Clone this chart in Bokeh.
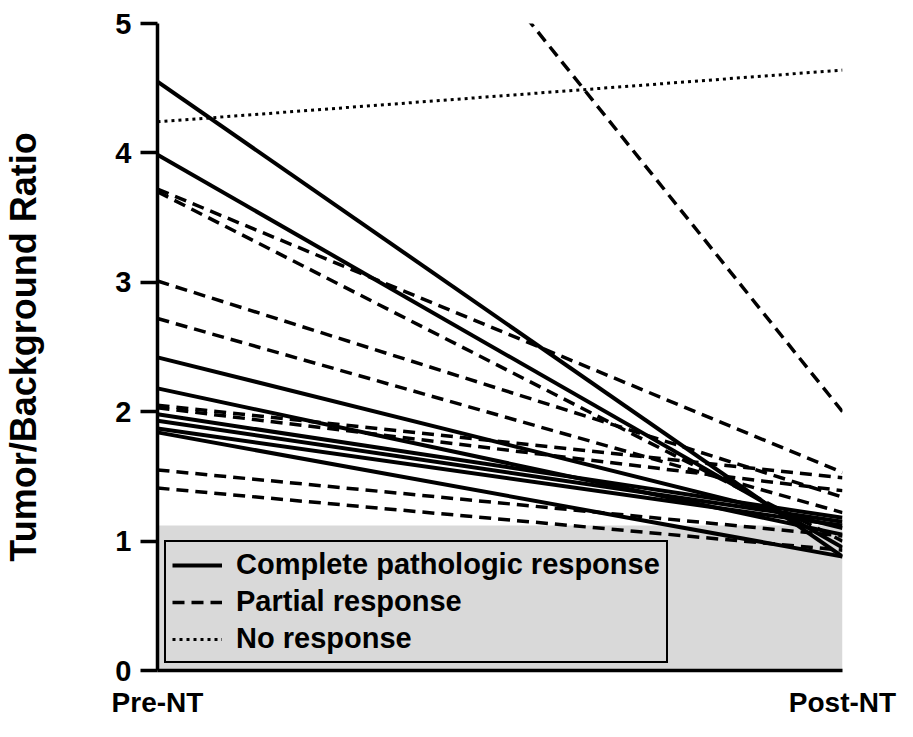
from bokeh.plotting import figure
from bokeh.models import Range1d, FixedTicker, ColumnDataSource, Legend, LegendItem
from bokeh.embed import file_html
from bokeh.resources import INLINE

# ---- data ----
categories = ["Pre-NT", "Post-NT"]
pre_complete = [4.55, 3.985, 2.42, 2.18, 1.98, 1.93, 1.87, 1.84]
post_complete = [0.88, 0.95, 1.10, 1.05, 1.18, 1.15, 1.12, 0.88]
pre_partial = [8.6, 3.72, 3.70, 3.01, 2.72, 2.05, 2.03, 1.55, 1.41]
post_partial = [2.0, 1.53, 1.00, 1.34, 1.22, 1.49, 1.39, 1.04, 0.93]
pre_none = [4.24]
post_none = [4.64]
background_limit = 1.12
y_ticks = [0, 1, 2, 3, 4, 5]

FONT = "Liberation Sans"

p = figure(width=897, height=721, output_backend="svg", toolbar_location=None,
           x_range=Range1d(0, 1), y_range=Range1d(0, 5),
           min_border_left=157, min_border_right=55, min_border_top=23, min_border_bottom=51)
p.outline_line_color = None
p.xgrid.visible = False
p.ygrid.visible = False
p.background_fill_color = "white"

# gray background band
p.quad(left=[0], right=[1], bottom=[0], top=[background_limit],
       fill_color="#d9d9d9", line_color=None)

def src(pre, post):
    return ColumnDataSource(dict(xs=[[0, 1] for _ in pre],
                                 ys=[[a, b] for a, b in zip(pre, post)]))

r_c = p.multi_line("xs", "ys", source=src(pre_complete, post_complete),
                   line_color="black", line_width=4)
r_p = p.multi_line("xs", "ys", source=src(pre_partial, post_partial),
                   line_color="black", line_width=3.5, line_dash="12 7")
r_n = p.multi_line("xs", "ys", source=src(pre_none, post_none),
                   line_color="black", line_width=3, line_dash="3 4")

legend = Legend(items=[
    LegendItem(label="Complete pathologic response", renderers=[r_c]),
    LegendItem(label="Partial response", renderers=[r_p]),
    LegendItem(label="No response", renderers=[r_n]),
], location=(7, 7))
legend.background_fill_color = "#d9d9d9"
legend.background_fill_alpha = 1
legend.border_line_color = "black"
legend.border_line_alpha = 1
legend.border_line_width = 2.5
legend.label_text_font = FONT
legend.label_text_font_style = "bold"
legend.label_text_font_size = "29px"
legend.label_text_color = "black"
legend.glyph_width = 50
legend.glyph_height = 30
legend.label_height = 30
legend.label_standoff = 14
legend.spacing = 4
legend.padding = 6
legend.margin = 0
p.add_layout(legend, "center")

# y axis
ya = p.yaxis[0]
ya.ticker = FixedTicker(ticks=y_ticks)
ya.axis_line_width = 3.5
ya.axis_line_color = "black"
ya.major_tick_line_width = 3.5
ya.major_tick_out = 17
ya.major_tick_in = 0
ya.minor_tick_out = 0
ya.minor_tick_in = 0
ya.major_label_text_font = FONT
ya.major_label_text_font_style = "bold"
ya.major_label_text_font_size = "29px"
ya.major_label_text_color = "black"
ya.major_label_standoff = 9
ya.axis_label = "Tumor/Background Ratio"
ya.axis_label_text_font = FONT
ya.axis_label_text_font_style = "bold"
ya.axis_label_text_font_size = "36px"
ya.axis_label_text_color = "black"
ya.axis_label_standoff = 68

# x axis
xa = p.xaxis[0]
xa.ticker = FixedTicker(ticks=[0, 1])
xa.major_label_overrides = {0: categories[0], 1: categories[1]}
xa.axis_line_width = 3.5
xa.axis_line_color = "black"
xa.major_tick_out = 0
xa.major_tick_in = 0
xa.minor_tick_out = 0
xa.minor_tick_in = 0
xa.major_label_text_font = FONT
xa.major_label_text_font_style = "bold"
xa.major_label_text_font_size = "28px"
xa.major_label_text_color = "black"
xa.major_label_standoff = 16

open("out.html", "w").write(file_html(p, INLINE))
